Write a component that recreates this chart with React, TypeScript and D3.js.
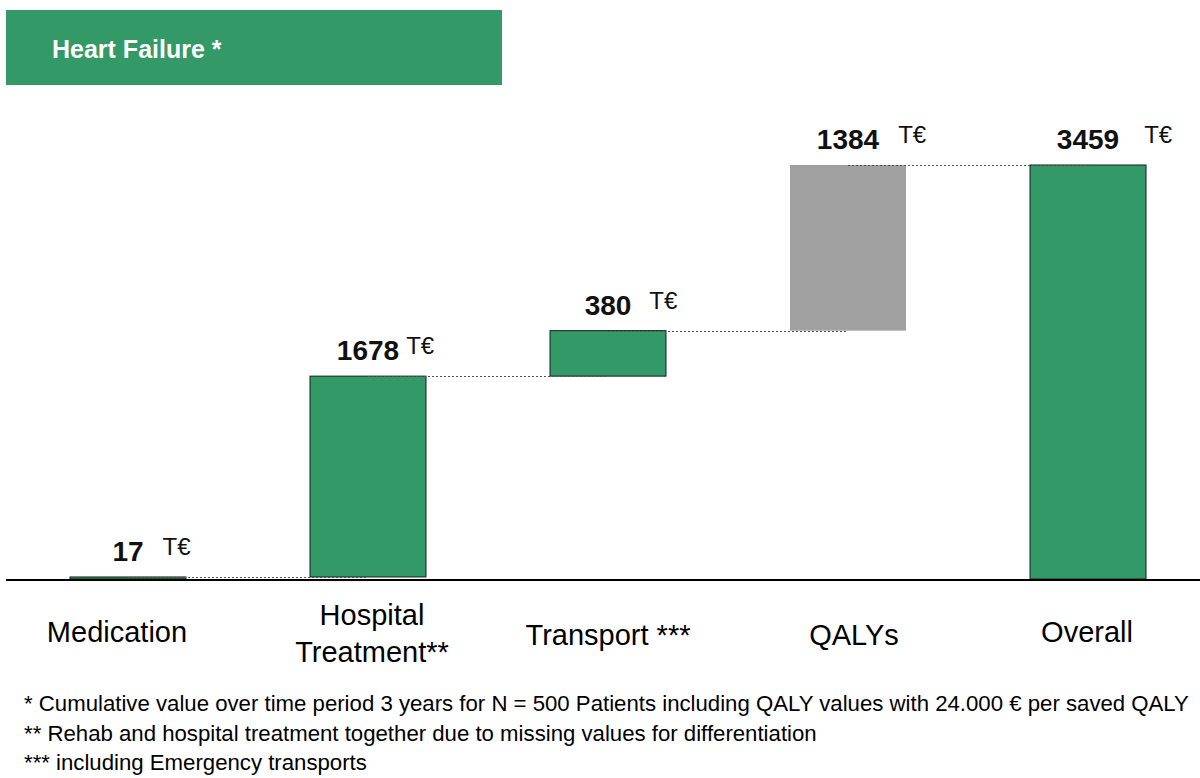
import { useEffect, useRef } from 'react';
import * as d3 from 'd3';

const categories = ['Medication', 'Hospital\nTreatment**', 'Transport ***', 'QALYs', 'Overall'];
const values = [17, 1678, 380, 1384, 3459];
const isTotal = [false, false, false, false, true];
const barColors = ['#339966', '#339966', '#339966', '#a0a0a0', '#339966'];
const unit = 'T€';
const title = 'Heart Failure *';
const footnotes = [
  '* Cumulative value over time period 3 years for N = 500 Patients including QALY values with 24.000 € per saved QALY',
  '** Rehab and hospital treatment together due to missing values for differentiation',
  '*** including Emergency transports',
];

// small layout tweaks
const unitGap = [19, 7, 18, 19, 25];
const labelDx = [-11, 4, 0, 6, -1];

const W = 1200;
const H = 778;
const FONT = 'Arial, "Liberation Sans", Helvetica, sans-serif';

export default function App() {
  const svgRef = useRef<SVGSVGElement>(null);

  useEffect(() => {
    const svg = svgRef.current;
    if (!svg) return;
    const sel = d3.select(svg);
    sel.selectAll('*').remove();

    const baseY = 579;
    const y = d3.scaleLinear().domain([0, 3459]).range([baseY, 165]);
    const x = d3.scaleBand<number>()
      .domain(d3.range(categories.length))
      .range([8, 1208])
      .paddingInner(0.5167)
      .paddingOuter(0.2583);

    // waterfall steps
    let run = 0;
    const steps = values.map((v, i) => {
      if (isTotal[i]) return { i, y0: 0, y1: v };
      const s = { i, y0: run, y1: run + v };
      run += v;
      return s;
    });

    // header
    sel.append('rect')
      .attr('x', 6).attr('y', 10).attr('width', 496).attr('height', 75)
      .attr('fill', '#339966');
    sel.append('text')
      .attr('x', 52).attr('y', 58)
      .attr('font-family', FONT).attr('font-weight', 'bold').attr('font-size', 25)
      .attr('fill', '#fff')
      .text(title);

    // bars
    sel.append('g')
      .selectAll('rect')
      .data(steps)
      .join('rect')
      .attr('x', (d) => x(d.i) ?? 0)
      .attr('width', x.bandwidth())
      .attr('y', (d) => y(d.y1))
      .attr('height', (d) => Math.max(1, y(d.y0) - y(d.y1)))
      .attr('fill', (d) => barColors[d.i])
      .attr('stroke', (d) => (barColors[d.i] === '#a0a0a0' ? 'none' : '#142019'))
      .attr('stroke-width', 1);

    // connectors
    const cx = (i: number) => (x(i) ?? 0) + x.bandwidth() / 2;
    steps.slice(0, -1).forEach((d, k) => {
      sel.append('line')
        .attr('x1', cx(d.i)).attr('x2', cx(steps[k + 1].i))
        .attr('y1', Math.round(y(d.y1)) + 0.5).attr('y2', Math.round(y(d.y1)) + 0.5)
        .attr('stroke', '#555').attr('stroke-width', 1)
        .attr('stroke-dasharray', '2,2');
    });

    // baseline
    sel.append('line')
      .attr('x1', 6).attr('x2', 1200)
      .attr('y1', baseY + 1).attr('y2', baseY + 1)
      .attr('stroke', '#000').attr('stroke-width', 2);

    // value labels
    steps.forEach((d) => {
      const by = y(d.y1) - 16;
      const num = sel.append('text')
        .attr('x', cx(d.i)).attr('y', by)
        .attr('text-anchor', 'middle')
        .attr('font-family', FONT).attr('font-weight', 'bold').attr('font-size', 28)
        .attr('fill', '#111')
        .text(String(values[d.i]));
      const w = (num.node() as SVGTextElement).getComputedTextLength();
      sel.append('text')
        .attr('x', cx(d.i) + w / 2 + unitGap[d.i]).attr('y', by - 6)
        .attr('font-family', FONT).attr('font-size', 24)
        .attr('fill', '#111')
        .text(unit);
    });

    // category labels
    categories.forEach((c, i) => {
      const lines = c.split('\n');
      const t = sel.append('text')
        .attr('x', cx(i) + labelDx[i])
        .attr('text-anchor', 'middle')
        .attr('font-family', FONT).attr('font-size', 29)
        .attr('fill', '#000');
      if (lines.length === 1) {
        t.attr('y', i === 2 || i === 3 ? 645 : 642).text(c);
      } else {
        lines.forEach((l, j) => {
          t.append('tspan').attr('x', cx(i) + labelDx[i]).attr('y', 625 + j * 37).text(l);
        });
      }
    });

    // footnotes
    footnotes.forEach((f, i) => {
      sel.append('text')
        .attr('x', 24).attr('y', 711 + i * 29.5)
        .attr('font-family', FONT).attr('font-size', 22.2)
        .attr('fill', '#000')
        .text(f);
    });
  }, []);

  return (
    <svg
      ref={svgRef}
      width={W}
      height={H}
      style={{ position: 'absolute', left: 0, top: 0, background: '#fff' }}
    />
  );
}
